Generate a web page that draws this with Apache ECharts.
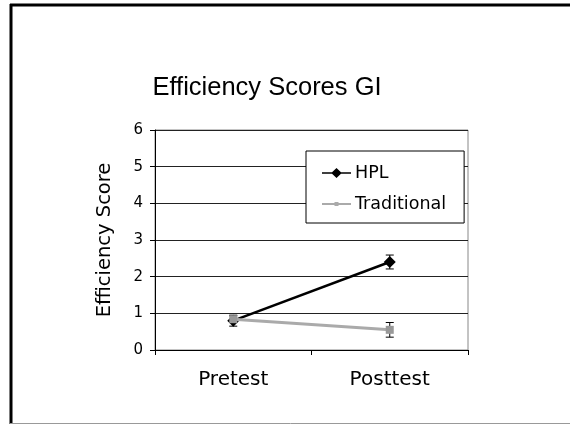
<!DOCTYPE html>
<html>
<head>
<meta charset="utf-8">
<script src="https://cdn.jsdelivr.net/npm/echarts@6/dist/echarts.min.js"></script>
<style>
  html, body { margin: 0; padding: 0; background: #fff; }
  #chart { width: 570px; height: 424px; }
</style>
</head>
<body>
<div id="chart"></div>
<script>
// data
var categories = ['Pretest', 'Posttest'];
var hplValues = [0.80, 2.40];
var hplErrors = [0.15, 0.19];
var tradValues = [0.84, 0.55];
var tradErrors = [0.09, 0.20];
var yTicks = [0, 1, 2, 3, 4, 5, 6];

// error bar data: [category index, low, high]
function errorData(values, errors) {
  return values.map(function (v, i) {
    return [i, v - errors[i], v + errors[i]];
  });
}

function renderError(params, api) {
  var x = api.value(0);
  var lo = api.coord([x, api.value(1)]);
  var hi = api.coord([x, api.value(2)]);
  var cap = 4;
  var style = { stroke: '#000', lineWidth: 1 };
  return {
    type: 'group',
    children: [
      { type: 'line', shape: { x1: lo[0], y1: lo[1], x2: hi[0], y2: hi[1] }, style: style },
      { type: 'line', shape: { x1: lo[0] - cap, y1: lo[1], x2: lo[0] + cap, y2: lo[1] }, style: style },
      { type: 'line', shape: { x1: hi[0] - cap, y1: hi[1], x2: hi[0] + cap, y2: hi[1] }, style: style }
    ]
  };
}

// legend icons: line with marker in the middle
var hplIcon = 'path://M0,6.2 H10 L14.5,2 L19,6.2 H29 V7.8 H19 L14.5,12 L10,7.8 H0 Z';
var tradIcon = 'path://M0,6 H12.5 V5 H16.5 V6 H29 V8 H16.5 V9 H12.5 V8 H0 Z';

var option = {
  animation: false,
  backgroundColor: '#fff',
  textStyle: { fontFamily: 'DejaVu Sans', color: '#000' },
  title: {
    text: 'Efficiency Scores GI',
    left: 262,
    top: 70,
    textAlign: 'center',
    textStyle: { fontFamily: 'Liberation Sans', fontSize: 25.5, fontWeight: 'normal', color: '#000' }
  },
  // slide frame
  graphic: [
    { type: 'line', shape: { x1: 11, y1: 4, x2: 11, y2: 424 }, style: { stroke: '#000', lineWidth: 3 } },
    { type: 'line', shape: { x1: 10, y1: 5, x2: 572, y2: 5 }, style: { stroke: '#000', lineWidth: 3 } },
    { type: 'line', shape: { x1: 10, y1: 423.5, x2: 572, y2: 423.5 }, style: { stroke: '#999', lineWidth: 1 } }
  ],
  legend: {
    orient: 'vertical',
    left: 306,
    top: 151,
    padding: [13, 18, 10, 16],
    itemWidth: 29,
    itemHeight: 14,
    itemGap: 13,
    backgroundColor: '#fff',
    borderColor: '#000',
    borderWidth: 1,
    borderRadius: 0,
    data: [
      { name: 'HPL', icon: hplIcon, itemStyle: { color: '#000' } },
      { name: 'Traditional', icon: tradIcon, itemStyle: { color: '#aaa' } }
    ],
    textStyle: { fontFamily: 'DejaVu Sans', fontSize: 17.5, color: '#000', padding: [0, 0, 0, -1] }
  },
  grid: {
    left: 155,
    top: 130,
    width: 313,
    height: 220,
    show: true,
    borderColor: '#888',
    borderWidth: 1
  },
  xAxis: {
    type: 'category',
    data: categories,
    boundaryGap: true,
    axisLine: { lineStyle: { color: '#000', width: 1 } },
    axisTick: { show: true, length: 5, lineStyle: { color: '#000' } },
    axisLabel: { margin: 20, fontSize: 20, color: '#000', fontFamily: 'DejaVu Sans' },
    splitLine: { show: false }
  },
  yAxis: {
    type: 'value',
    min: yTicks[0],
    max: yTicks[yTicks.length - 1],
    interval: 1,
    name: 'Efficiency Score',
    nameLocation: 'middle',
    nameGap: 40,
    nameTextStyle: { fontSize: 19.5, color: '#000', fontFamily: 'DejaVu Sans' },
    axisLine: { show: true, lineStyle: { color: '#000', width: 1 } },
    axisTick: { show: true, length: 5, lineStyle: { color: '#000' } },
    axisLabel: { margin: 12, fontSize: 15, color: '#000', fontFamily: 'DejaVu Sans' },
    splitLine: { show: true, lineStyle: { color: '#222', width: 1 } }
  },
  series: [
    {
      name: 'HPL',
      type: 'line',
      data: hplValues,
      symbol: 'diamond',
      symbolSize: 12,
      color: '#000',
      lineStyle: { color: '#000', width: 2.5 },
      itemStyle: { color: '#000' },
      z: 3
    },
    {
      type: 'custom',
      renderItem: renderError,
      data: errorData(hplValues, hplErrors),
      encode: { x: 0, y: [1, 2] },
      z: 4
    },
    {
      name: 'Traditional',
      type: 'line',
      data: tradValues,
      symbol: 'rect',
      symbolSize: 8,
      color: '#aaa',
      lineStyle: { color: '#aaa', width: 3 },
      itemStyle: { color: '#999' },
      z: 5
    },
    {
      type: 'custom',
      renderItem: renderError,
      data: errorData(tradValues, tradErrors),
      encode: { x: 0, y: [1, 2] },
      z: 4
    }
  ]
};

var myChart = echarts.init(document.getElementById('chart'));
myChart.setOption(option);
</script>
</body>
</html>
